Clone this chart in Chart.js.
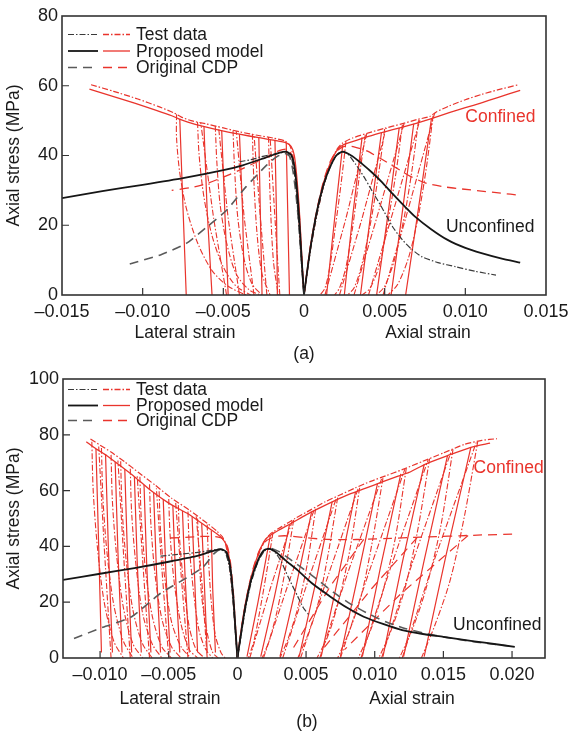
<!DOCTYPE html>
<html>
<head>
<meta charset="utf-8">
<script src="https://cdn.jsdelivr.net/npm/chart.js@4.4.1/dist/chart.umd.min.js"></script>
<style>
  body { margin: 0; background: #fff; }
  #wrap { position: relative; width: 569px; height: 732px; }
  #wrap canvas { position: absolute; left: 0; }
</style>
</head>
<body>
<div id="wrap">
  <canvas id="chartA" width="569" height="366" style="top:0"></canvas>
  <canvas id="chartB" width="569" height="366" style="top:366px"></canvas>
</div>
<script>
// ---------- panel (a) ----------
const xTicksA = [-0.015, -0.010, -0.005, 0, 0.005, 0.010, 0.015];
const yTicksA = [0, 20, 40, 60, 80];

// unconfined (black / grey)
const aUnconfModelLat = [[-0.015,27.8],[-0.0125,29.8],[-0.010,31.6],[-0.0075,33.5],[-0.005,35.8],[-0.0038,37.2],[-0.0025,39.2],[-0.0015,40.8],[-0.0011,41.1],[-0.0008,40.2],[-0.0006,37],[-0.00045,31],[-0.0003,22],[-0.00018,13],[-0.00008,5.5],[0,0]];
const aUnconfTestLat = [[-0.0040,38.2],[-0.0033,38.8],[-0.0027,39.6],[-0.0018,40.4],[-0.0011,41.0],[-0.0008,39.5],[-0.0006,35],[-0.00045,28],[-0.0003,19],[-0.00015,9],[0,0]];
const aUnconfCdpLat = [[-0.0108,8.9],[-0.0089,11.5],[-0.0073,14.8],[-0.0060,19.6],[-0.0048,24.3],[-0.0036,31.0],[-0.0023,37.3],[-0.0017,39.6],[-0.0012,40.6],[-0.0009,39.8],[-0.0007,36],[-0.0005,29],[-0.0003,19],[-0.00015,9],[0,0]];
const aUnconfModelAx = [[0,0],[0.0004,13.5],[0.0008,24],[0.0012,31.5],[0.0016,36.5],[0.002,40],[0.0024,41.1],[0.0030,39.8],[0.0036,37.6],[0.0042,35.2],[0.0048,32.5],[0.0055,29],[0.0062,25.6],[0.0069,22.4],[0.0079,18.8],[0.0089,15.8],[0.0100,13.5],[0.0110,12],[0.0122,10.5],[0.0134,9.3]];
const aUnconfTestAx = [[0,0],[0.0004,13],[0.0008,23],[0.0012,31],[0.0016,36.5],[0.002,40],[0.0023,41],[0.0027,40.5],[0.0032,37.5],[0.0037,34],[0.0042,30],[0.0048,25.3],[0.0055,19.5],[0.0061,15.8],[0.0067,13],[0.0073,11],[0.0083,9.3],[0.0094,8.1],[0.0106,6.8],[0.0119,5.7]];

// confined (red) envelopes
const aConfModelLat = [[-0.0133,59.0],[-0.0120,57.2],[-0.0105,55.0],[-0.0092,53.0],[-0.0082,51.4],[-0.0078,50.6],[-0.0072,49.6],[-0.0063,48.4],[-0.0052,47.2],[-0.0040,46.1],[-0.0028,45.1],[-0.0018,44.3],[-0.0011,43.6],[-0.0008,42.6],[-0.0006,40.0],[-0.00045,34.0],[-0.0003,25.0],[-0.00018,15.0],[-0.00008,6.0],[0,0]];
const aConfTestLat = [[-0.0132,60.3],[-0.0118,58.4],[-0.0103,56.2],[-0.0090,54.0],[-0.0081,52.3],[-0.0076,51.0],[-0.0070,50.0],[-0.0061,49.1],[-0.0050,47.9],[-0.0040,46.8],[-0.0029,45.8],[-0.0019,45.0],[-0.0012,44.2],[-0.0009,43.0],[-0.0007,40.5],[-0.0005,33.0],[-0.00035,24.0],[-0.0002,13.0],[-0.00008,5.0],[0,0]];
const aConfCdpLat = [[0,0],[-0.00015,12],[-0.0003,24],[-0.0005,34],[-0.0007,39.5],[-0.001,41.8],[-0.0015,41.5],[-0.0022,39.8],[-0.003,38],[-0.004,35.8],[-0.005,33.8],[-0.006,32],[-0.007,30.8],[-0.0082,30]];
const aConfModelAx = [[0,0],[0.0004,14],[0.0008,24],[0.0012,32],[0.0016,37.5],[0.002,41.2],[0.0024,43.0],[0.003,44.0],[0.004,45.5],[0.005,46.8],[0.006,48.0],[0.007,49.3],[0.0079,50.6],[0.009,52.3],[0.010,53.7],[0.011,55.1],[0.012,56.6],[0.0134,58.7]];
const aConfTestAx = [[0,0],[0.0004,13],[0.0008,23],[0.0012,31],[0.0016,37],[0.002,41.5],[0.0024,43.6],[0.003,45],[0.004,46.5],[0.005,47.8],[0.006,49.0],[0.007,50.3],[0.0078,51.2],[0.0082,52.5],[0.009,54.2],[0.010,56.0],[0.011,57.5],[0.012,58.8],[0.0133,60.3]];
const aConfCdpAx = [[0,0],[0.0004,14],[0.0008,24.5],[0.0012,32.5],[0.0016,38],[0.002,41.2],[0.0025,42.6],[0.0031,42.5],[0.0039,41.3],[0.0048,39],[0.0057,36.5],[0.0066,34],[0.0076,32],[0.0087,31],[0.0098,30.4],[0.011,29.8],[0.0122,29.2],[0.0134,28.6]];

// confined unloading / reloading cycles
const aModelLoops = [
  [[-0.0077,50.5],[-0.0075,25],[-0.0073,0]],
  [[-0.0062,48.3],[-0.0060,24],[-0.0057,0]],
  [[-0.0051,47.1],[-0.0049,23],[-0.0047,0]],
  [[-0.0040,46.1],[-0.0038,23],[-0.0037,0]],
  [[-0.0028,45.1],[-0.0027,22],[-0.0026,0]],
  [[-0.0018,44.3],[-0.0017,22],[-0.00165,0]],
  [[-0.0011,43.6],[-0.0010,22],[-0.0009,0]],
  [[0.0024,43.0],[0.0019,22],[0.0014,0]],
  [[0.0036,45.2],[0.0030,22],[0.0025,0]],
  [[0.0048,46.6],[0.0041,22],[0.0035,0]],
  [[0.0059,47.9],[0.0052,23],[0.0045,0]],
  [[0.0068,49.1],[0.0061,24],[0.0054,0]],
  [[0.0079,50.6],[0.0071,25],[0.0063,0]]
];
const aTestLoops = [
  [[-0.0079,51.8],[-0.0079,45],[-0.0077,35],[-0.0073,25],[-0.0066,15],[-0.0057,7],[-0.0047,2.5],[-0.0036,0]],
  [[-0.0066,49.6],[-0.0065,40],[-0.0062,28],[-0.0057,17],[-0.0050,8],[-0.0042,2.5],[-0.0033,0]],
  [[-0.0055,48.5],[-0.0054,38],[-0.0052,26],[-0.0048,15],[-0.0042,6],[-0.0034,1.5],[-0.0027,0]],
  [[-0.0044,47.2],[-0.0043,36],[-0.0041,22],[-0.0037,10],[-0.0032,3],[-0.0026,0]],
  [[-0.0032,46.2],[-0.0031,32],[-0.0029,17],[-0.0026,6],[-0.0021,0]],
  [[-0.0022,45.3],[-0.0021,28],[-0.0019,10],[-0.0016,0]],
  [[0.0026,44.0],[0.0023,32],[0.0019,18],[0.0016,8],[0.0013,2],[0.0010,0]],
  [[0.0038,46.0],[0.0034,33],[0.0030,19],[0.0026,8],[0.0022,2],[0.0019,0]],
  [[0.0050,47.6],[0.0046,34],[0.0041,20],[0.0036,9],[0.0031,2],[0.0027,0]],
  [[0.0061,48.8],[0.0057,35],[0.0052,21],[0.0047,9],[0.0041,2],[0.0036,0]],
  [[0.0071,50.1],[0.0067,36],[0.0062,22],[0.0056,10],[0.0050,2.5],[0.0045,0]],
  [[0.0080,51.4],[0.0076,37],[0.0071,23],[0.0065,11],[0.0058,3],[0.0052,0]]
];
const aTestReloads = [
  [[-0.0048,0],[-0.0056,22],[-0.0064,49.4]],
  [[-0.0040,0],[-0.0047,22],[-0.0053,48.3]],
  [[-0.0031,0],[-0.0037,22],[-0.0042,47.0]],
  [[-0.0023,0],[-0.0027,22],[-0.0031,46.1]],
  [[-0.0015,0],[-0.0018,22],[-0.0021,45.2]],
  [[0.0013,0],[0.0026,22],[0.0039,46.4]],
  [[0.0022,0],[0.0036,22],[0.0051,47.9]],
  [[0.0031,0],[0.0045,22],[0.0062,49.1]],
  [[0.0040,0],[0.0054,22],[0.0072,50.4]],
  [[0.0049,0],[0.0063,22],[0.0081,52.2]]
];

// ---------- panel (b) ----------
const xTicksB = [-0.010, -0.005, 0, 0.005, 0.010, 0.015, 0.020];
const yTicksB = [0, 20, 40, 60, 80, 100];

const bUnconfModelLat = [[-0.0127,28],[-0.010,30.2],[-0.0075,32.2],[-0.005,34.5],[-0.003,36.5],[-0.002,38],[-0.0012,39],[-0.0008,38],[-0.0005,32],[-0.0003,22],[-0.00015,11],[0,0]];
const bUnconfTestLat = [[-0.0056,36.5],[-0.0040,37.3],[-0.0030,37.8],[-0.0020,38.5],[-0.0013,39],[-0.0009,38],[-0.0006,33],[-0.0004,25],[-0.0002,13],[0,0]];
const bUnconfCdpLat = [[-0.0119,7],[-0.0098,11],[-0.0077,14.8],[-0.0056,23.2],[-0.0036,29],[-0.0025,32.6],[-0.0017,37.4],[-0.0012,39],[-0.0008,37.5],[-0.0005,31],[-0.0003,21],[-0.00015,10],[0,0]];
const bUnconfModelAx = [[0,0],[0.0003,10],[0.0006,19],[0.001,28],[0.0015,35],[0.0019,38.5],[0.0023,39.2],[0.0028,38],[0.0035,35],[0.0044,31.4],[0.0055,26.5],[0.0068,21.9],[0.0080,18],[0.0092,14.8],[0.0106,12.2],[0.0120,10],[0.0135,8.6],[0.0150,7.6],[0.0165,6.5],[0.0180,5.5],[0.0202,4]];
const bUnconfTestAx = [[0,0],[0.0003,9],[0.0006,18],[0.001,27],[0.0015,34.5],[0.002,38.5],[0.0024,39],[0.0028,37.5],[0.0032,34.5],[0.0037,29],[0.0044,22],[0.0048,18],[0.0052,15.5]];
const bUnconfCdpAx = [[0,0],[0.0006,19],[0.001,28],[0.0015,35],[0.002,38.8],[0.0024,39.4],[0.003,38.2],[0.0038,35.5],[0.0047,32.3],[0.0058,28.2],[0.0070,23.5],[0.0082,19.5],[0.0094,16.2],[0.0108,13],[0.0122,10.6],[0.0137,8.8],[0.0152,7.4],[0.0167,6.2],[0.0182,5.2],[0.0198,4.3]];

const bConfModelLat = [[-0.0110,77.5],[-0.0103,75.0],[-0.0095,72.5],[-0.0085,68.8],[-0.0075,65.0],[-0.0063,60.0],[-0.0050,55.5],[-0.0036,51.7],[-0.0022,46.9],[-0.0015,44.5],[-0.0011,42.8],[-0.0008,40.5],[-0.0006,36],[-0.00045,30],[-0.0003,22],[-0.00015,12],[0,0]];
const bConfTestLat = [[-0.0107,78.5],[-0.0100,76.3],[-0.0092,73.8],[-0.0082,70.3],[-0.0072,66.5],[-0.0060,62.0],[-0.0048,57.3],[-0.0035,53.0],[-0.0022,48.3],[-0.0015,45.5],[-0.0011,43.5],[-0.0009,41.5],[-0.0007,37],[-0.0005,30],[-0.0003,20],[-0.00015,10],[0,0]];
const bConfCdpLat = [[0,0],[-0.00015,12],[-0.0003,24],[-0.0005,34],[-0.0007,39.5],[-0.001,42.5],[-0.0016,43.5],[-0.0025,43.6],[-0.0035,43.3],[-0.0049,43.0]];
const bConfModelAx = [[0,0],[0.0003,11],[0.0006,20],[0.001,29],[0.0015,37],[0.0019,41.5],[0.0022,43.3],[0.003,45.8],[0.0039,48.2],[0.005,51.3],[0.006,53.8],[0.0071,56.4],[0.0082,58.8],[0.0093,60.8],[0.0105,63.0],[0.0116,65.0],[0.0125,66.5],[0.0137,69.5],[0.0153,72.5],[0.0170,75.5],[0.0184,77.0]];
const bConfTestAx = [[0,0],[0.0003,10],[0.0006,19],[0.001,28],[0.0015,36.5],[0.002,42],[0.0024,44.5],[0.0032,47],[0.0042,50],[0.0053,53],[0.0064,56],[0.0075,58.5],[0.0086,61],[0.0097,63.3],[0.0108,65.3],[0.0120,67.5],[0.0135,70.5],[0.0150,73.5],[0.0165,76.5],[0.0178,78],[0.0189,78.6]];
const bConfCdpAx = [[0,0],[0.0004,14],[0.0008,25],[0.0012,33],[0.0016,38.5],[0.0021,42],[0.0028,43.6],[0.0036,43.8],[0.0048,43.2],[0.0062,42.6],[0.0078,42.4],[0.0095,42.6],[0.0112,42.9],[0.0128,43.2],[0.0145,43.5],[0.0162,43.8],[0.0178,44.1],[0.0202,44.4]];

const bModelLoops = [
  [[-0.0103,75.0],[-0.0101,40],[-0.0099,2]],
  [[-0.0096,72.8],[-0.0094,40],[-0.0091,2]],
  [[-0.0089,70.3],[-0.0087,38],[-0.0084,2]],
  [[-0.0082,67.7],[-0.0080,36],[-0.0077,2]],
  [[-0.0075,65.0],[-0.0073,35],[-0.0070,2]],
  [[-0.0068,62.0],[-0.0066,33],[-0.0063,2]],
  [[-0.0061,59.3],[-0.0059,32],[-0.0056,2]],
  [[-0.0054,56.8],[-0.0052,30],[-0.0049,2]],
  [[-0.0047,54.6],[-0.0045,29],[-0.0042,2]],
  [[-0.0040,52.7],[-0.0038,28],[-0.0035,2]],
  [[-0.0033,50.7],[-0.0031,27],[-0.0029,2]],
  [[-0.0026,48.3],[-0.0024,26],[-0.0022,2]],
  [[-0.0019,45.7],[-0.0018,25],[-0.0016,2]],
  [[0.0024,44.0],[0.0015,20],[0.0007,0.5]],
  [[0.0038,48.0],[0.0027,22],[0.0017,0.5]],
  [[0.0054,52.3],[0.0042,24],[0.0031,0.5]],
  [[0.0069,56.0],[0.0057,27],[0.0045,0.5]],
  [[0.0086,59.5],[0.0073,28],[0.0061,0.5]],
  [[0.0102,62.5],[0.0088,30],[0.0075,0.5]],
  [[0.0119,66.0],[0.0104,32],[0.0091,0.5]],
  [[0.0136,69.3],[0.0120,34],[0.0106,0.5]],
  [[0.0153,72.5],[0.0136,35],[0.0121,0.5]],
  [[0.0170,75.5],[0.0152,37],[0.0136,0.5]]
];
const bTestLoops = [
  [[-0.0106,77.5],[-0.0105,60],[-0.0102,40],[-0.0097,20],[-0.0090,6],[-0.0083,0]],
  [[-0.0099,75.3],[-0.0098,58],[-0.0095,38],[-0.0090,19],[-0.0083,6],[-0.0076,0]],
  [[-0.0092,72.8],[-0.0091,56],[-0.0088,37],[-0.0083,18],[-0.0076,5],[-0.0069,0]],
  [[-0.0085,70.5],[-0.0084,54],[-0.0081,35],[-0.0076,17],[-0.0069,5],[-0.0062,0]],
  [[-0.0078,67.8],[-0.0077,52],[-0.0074,34],[-0.0069,16],[-0.0062,5],[-0.0055,0]],
  [[-0.0071,65.0],[-0.0070,50],[-0.0067,32],[-0.0062,15],[-0.0055,4],[-0.0048,0]],
  [[-0.0064,62.3],[-0.0063,48],[-0.0060,30],[-0.0055,14],[-0.0048,4],[-0.0041,0]],
  [[-0.0057,59.8],[-0.0056,46],[-0.0053,29],[-0.0048,13],[-0.0041,4],[-0.0034,0]],
  [[-0.0050,57.0],[-0.0049,44],[-0.0046,27],[-0.0041,12],[-0.0035,3],[-0.0029,0]],
  [[-0.0043,54.8],[-0.0042,42],[-0.0039,26],[-0.0035,11],[-0.0030,3],[-0.0024,0]],
  [[-0.0036,52.5],[-0.0035,40],[-0.0032,24],[-0.0028,10],[-0.0023,3],[-0.0018,0]],
  [[-0.0029,50.0],[-0.0028,38],[-0.0026,22],[-0.0022,9],[-0.0018,2],[-0.0014,0]],
  [[-0.0022,47.8],[-0.0021,35],[-0.0019,20],[-0.0016,8],[-0.0012,2],[-0.0009,0]],
  [[0.0026,45.2],[0.0021,30],[0.0016,16],[0.0012,6],[0.0008,0]],
  [[0.0041,49.5],[0.0035,32],[0.0029,17],[0.0023,6],[0.0018,0]],
  [[0.0057,53.5],[0.0051,34],[0.0044,18],[0.0037,7],[0.0031,0]],
  [[0.0073,57.5],[0.0066,37],[0.0059,20],[0.0051,8],[0.0044,0]],
  [[0.0089,61.0],[0.0082,39],[0.0074,21],[0.0066,8],[0.0058,0]],
  [[0.0106,64.5],[0.0098,41],[0.0090,22],[0.0081,9],[0.0073,0]],
  [[0.0123,68.0],[0.0115,43],[0.0106,24],[0.0097,10],[0.0088,0]],
  [[0.0140,71.5],[0.0131,45],[0.0122,25],[0.0112,10],[0.0103,0]],
  [[0.0157,74.8],[0.0148,47],[0.0138,26],[0.0128,11],[0.0118,0]],
  [[0.0175,77.5],[0.0165,50],[0.0155,28],[0.0144,12],[0.0134,0]]
];
const bTestReloads = [
  [[-0.0092,0],[-0.0097,40],[-0.0101,75.8]],
  [[-0.0078,0],[-0.0083,38],[-0.0087,70.8]],
  [[-0.0064,0],[-0.0069,35],[-0.0073,65.5]],
  [[-0.0050,0],[-0.0055,32],[-0.0059,60.8]],
  [[-0.0036,0],[-0.0041,30],[-0.0045,56.0]],
  [[-0.0022,0],[-0.0026,28],[-0.0030,50.8]],
  [[0.0009,0],[0.0024,25],[0.0040,49.2]],
  [[0.0019,0],[0.0036,25],[0.0056,53.3]],
  [[0.0033,0],[0.0051,27],[0.0072,57.2]],
  [[0.0046,0],[0.0065,28],[0.0088,60.8]],
  [[0.0060,0],[0.0080,30],[0.0105,64.2]],
  [[0.0075,0],[0.0096,31],[0.0122,67.8]],
  [[0.0090,0],[0.0112,33],[0.0139,71.2]],
  [[0.0105,0],[0.0128,35],[0.0156,74.5]],
  [[0.0120,0],[0.0144,36],[0.0174,77.3]]
];
const bCdpLoops = [
  [[0.0168,43.9],[0.0119,23.0],[0.0078,3.0]],
  [[0.0131,43.2],[0.0098,25.0],[0.0062,3.0]],
  [[0.0092,42.5],[0.0068,26.0],[0.0040,3.0]]
];

// ---------- styles ----------
const RED = 'rgb(233,52,44)';
const BLACK = '#161616';
const DARK = '#3a3a3a';
const GREY = '#5a5a5a';
const DASHDOT = [6, 2, 1.5, 2];
const DASHED = [9, 6];
const FONT = "'Liberation Sans', Arial, sans-serif";

Chart.defaults.font.family = FONT;
Chart.defaults.color = '#1a1a1a';

function line(points, color, dash, width, tension, order) {
  return {
    data: points.map(p => ({ x: p[0], y: p[1] })),
    showLine: true,
    borderColor: color,
    borderWidth: width,
    borderDash: dash,
    pointRadius: 0,
    tension: tension,
    fill: false,
    order: order
  };
}

function fmtStrain(v) {
  if (Math.abs(v) < 1e-9) return '0';
  return (v < 0 ? '\u2013' : '') + Math.abs(v).toFixed(3);
}

const legendRows = [
  { text: 'Test data', dash: DASHDOT, dark: DARK, w: 1.2 },
  { text: 'Proposed model', dash: [], dark: BLACK, w: 1.8 },
  { text: 'Original CDP', dash: DASHED, dark: GREY, w: 1.6 }
];

// frame, inner ticks, legend and free text
const decor = {
  id: 'decor',
  afterDraw(chart, args, o) {
    const ctx = chart.ctx, a = chart.chartArea;
    const xs = chart.scales.x, ys = chart.scales.y;
    ctx.save();
    ctx.strokeStyle = '#333';
    ctx.lineWidth = 1.2;
    ctx.setLineDash([]);
    ctx.beginPath();
    xs.ticks.forEach(t => {
      const px = xs.getPixelForValue(t.value);
      if (px > a.left + 2 && px < a.right - 2) { ctx.moveTo(px, a.bottom); ctx.lineTo(px, a.bottom - 7); }
    });
    ys.ticks.forEach(t => {
      const py = ys.getPixelForValue(t.value);
      if (py > a.top + 2 && py < a.bottom - 2) { ctx.moveTo(a.left, py); ctx.lineTo(a.left + 7, py); }
    });
    ctx.stroke();
    ctx.lineWidth = 1.6;
    ctx.strokeRect(a.left, a.top, a.right - a.left, a.bottom - a.top);

    // legend with a black and a red sample per row
    ctx.font = '17.5px ' + FONT;
    ctx.textBaseline = 'middle';
    ctx.textAlign = 'left';
    legendRows.forEach((r, i) => {
      const y = o.legendY[i];
      ctx.setLineDash(r.dash);
      ctx.lineWidth = r.w;
      ctx.strokeStyle = r.dark;
      ctx.beginPath(); ctx.moveTo(68, y); ctx.lineTo(98, y); ctx.stroke();
      ctx.lineWidth = 1.3;
      ctx.strokeStyle = RED;
      ctx.beginPath(); ctx.moveTo(103, y); ctx.lineTo(130, y); ctx.stroke();
      ctx.setLineDash([]);
      ctx.fillStyle = '#1a1a1a';
      ctx.fillText(r.text, 136, y + 1);
    });

    // curve labels
    ctx.fillStyle = RED;
    ctx.fillText('Confined', xs.getPixelForValue(o.confined[0]), ys.getPixelForValue(o.confined[1]));
    ctx.fillStyle = '#1a1a1a';
    ctx.fillText('Unconfined', xs.getPixelForValue(o.unconfined[0]), ys.getPixelForValue(o.unconfined[1]));

    // strain titles and panel tag
    ctx.textAlign = 'center';
    ctx.fillText('Lateral strain', o.lateralX, o.titleY);
    ctx.fillText('Axial strain', o.axialX, o.titleY);
    ctx.fillText(o.panel, o.panelX, o.panelY);
    ctx.restore();
  }
};

function buildDatasets(s) {
  const ds = [];
  // black curves on top
  ds.push(line(s.uModelLat, BLACK, [], 1.8, 0.2, 0));
  ds.push(line(s.uModelAx, BLACK, [], 1.8, 0.2, 0));
  ds.push(line(s.uTestLat, DARK, DASHDOT, 1.2, 0.2, 0));
  ds.push(line(s.uTestAx, DARK, DASHDOT, 1.2, 0.2, 0));
  ds.push(line(s.uCdpLat, GREY, DASHED, 1.6, 0.2, 0));
  if (s.uCdpAx) ds.push(line(s.uCdpAx, GREY, DASHED, 1.6, 0.2, 0));
  // red curves underneath
  ds.push(line(s.cModelLat, RED, [], 1.3, 0.2, 1));
  ds.push(line(s.cModelAx, RED, [], 1.3, 0.2, 1));
  ds.push(line(s.cTestLat, RED, DASHDOT, 1.2, 0.2, 1));
  ds.push(line(s.cTestAx, RED, DASHDOT, 1.2, 0.2, 1));
  ds.push(line(s.cCdpLat, RED, DASHED, 1.3, 0.2, 1));
  ds.push(line(s.cCdpAx, RED, DASHED, 1.3, 0.2, 1));
  s.modelLoops.forEach(l => ds.push(line(l, RED, [], 1.2, 0.1, 1)));
  s.testLoops.forEach(l => ds.push(line(l, RED, DASHDOT, 1.1, 0.3, 1)));
  s.testReloads.forEach(l => ds.push(line(l, RED, DASHDOT, 1.1, 0.1, 1)));
  (s.cdpLoops || []).forEach(l => ds.push(line(l, RED, DASHED, 1.2, 0, 1)));
  return ds;
}

function makeChart(id, s) {
  return new Chart(document.getElementById(id), {
    type: 'scatter',
    data: { datasets: buildDatasets(s) },
    options: {
      responsive: false,
      animation: false,
      events: [],
      devicePixelRatio: 1,
      layout: { padding: { top: s.padTop, right: s.padRight, left: 0, bottom: 0 } },
      plugins: {
        legend: { display: false },
        tooltip: { enabled: false },
        decor: s.decor
      },
      scales: {
        x: {
          type: 'linear',
          min: s.xMin, max: s.xMax,
          grid: { display: false, drawTicks: false },
          border: { display: false },
          afterBuildTicks: sc => { sc.ticks = s.xTicks.map(v => ({ value: v })); },
          afterFit: sc => { sc.height = s.xHeight; sc.paddingLeft = 0; sc.paddingRight = 0; },
          ticks: { padding: 6, maxRotation: 0, autoSkip: false, font: { size: 18 }, color: '#1a1a1a', callback: v => fmtStrain(v) }
        },
        y: {
          type: 'linear',
          min: 0, max: s.yMax,
          grid: { display: false, drawTicks: false },
          border: { display: false },
          afterBuildTicks: sc => { sc.ticks = s.yTicks.map(v => ({ value: v })); },
          afterFit: sc => { sc.width = s.yWidth; sc.paddingTop = 0; sc.paddingBottom = 0; },
          ticks: { padding: 4, font: { size: 18 }, color: '#1a1a1a' },
          title: { display: true, text: 'Axial stress (MPa)', font: { size: 17.5 }, color: '#1a1a1a', padding: { top: 4, bottom: 0 } }
        }
      }
    },
    plugins: [decor]
  });
}

makeChart('chartA', {
  xMin: -0.015, xMax: 0.015, yMax: 80, xTicks: xTicksA, yTicks: yTicksA,
  padTop: 16, padRight: 23, yWidth: 62, xHeight: 71,
  uModelLat: aUnconfModelLat, uModelAx: aUnconfModelAx, uTestLat: aUnconfTestLat, uTestAx: aUnconfTestAx, uCdpLat: aUnconfCdpLat,
  cModelLat: aConfModelLat, cModelAx: aConfModelAx, cTestLat: aConfTestLat, cTestAx: aConfTestAx, cCdpLat: aConfCdpLat, cCdpAx: aConfCdpAx,
  modelLoops: aModelLoops, testLoops: aTestLoops, testReloads: aTestReloads,
  decor: { legendY: [34.5, 51, 67.5], confined: [0.0100, 51], unconfined: [0.0088, 19.5],
           lateralX: 185, axialX: 428, titleY: 333, panel: '(a)', panelX: 304, panelY: 354 }
});

makeChart('chartB', {
  xMin: -0.0127, xMax: 0.0224, yMax: 100, xTicks: xTicksB, yTicks: yTicksB,
  padTop: 13, padRight: 24, yWidth: 63, xHeight: 74,
  uModelLat: bUnconfModelLat, uModelAx: bUnconfModelAx, uTestLat: bUnconfTestLat, uTestAx: bUnconfTestAx, uCdpLat: bUnconfCdpLat, uCdpAx: bUnconfCdpAx,
  cModelLat: bConfModelLat, cModelAx: bConfModelAx, cTestLat: bConfTestLat, cTestAx: bConfTestAx, cCdpLat: bConfCdpLat, cCdpAx: bConfCdpAx,
  modelLoops: bModelLoops, testLoops: bTestLoops, testReloads: bTestReloads, cdpLoops: bCdpLoops,
  decor: { legendY: [23.5, 39.5, 54.5], confined: [0.0172, 67.9], unconfined: [0.0157, 11.8],
           lateralX: 170, axialX: 412, titleY: 333, panel: '(b)', panelX: 307, panelY: 356 }
});
</script>
</body>
</html>
